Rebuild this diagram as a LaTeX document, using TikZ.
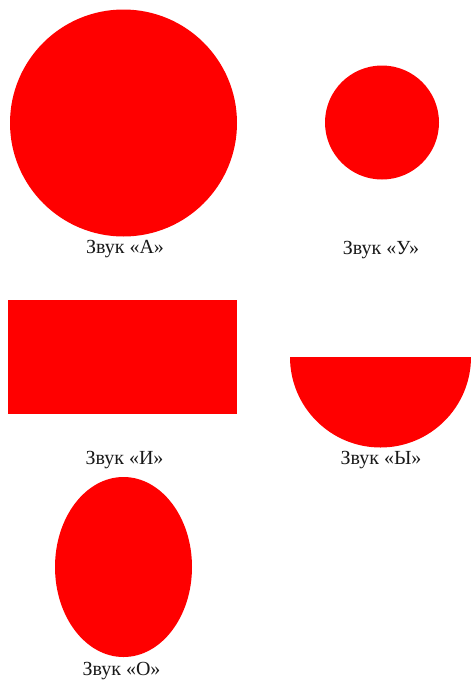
\documentclass[tikz,border=0pt]{standalone}
\usepackage{fontspec}
\setmainfont{Liberation Serif}
\usetikzlibrary{positioning, shapes.geometric}

\begin{document}
\begin{tikzpicture}[
    x=1pt, y=1pt,
    % filled red figures, no outline
    figure/.style={
        fill=red,
        draw=none,
        inner sep=0pt,
        outer sep=0pt
    },
    lbl/.style={font=\fontsize{20}{22}\selectfont, inner sep=0pt, text=black!90}
]
    \useasboundingbox (0,0) rectangle (471,-689);

    % --- Figures ---
    \node[figure, circle, minimum size=227pt] (a) at (123.5,-123) {};
    \node[figure, circle, minimum size=114pt] (u) at (382,-122.5) {};
    \node[figure, rectangle, minimum width=229pt, minimum height=114pt] (i) at (122.5,-357) {};
    \coordinate (y) at (380.5,-357);
    \fill[red] ([xshift=-90.5pt]y) arc[start angle=180, end angle=360, radius=90.5pt] -- cycle;
    \node[figure, ellipse, minimum width=137pt, minimum height=180pt] (o) at (123.5,-567) {};

    % --- Labels ---
    \node[lbl] (la) at (125,-249) {Звук «А»};
    \node[lbl] (lu) at (381,-250) {Звук «У»};
    \node[lbl] (li) at (124.5,-460) {Звук «И»};
    \node[lbl] (ly) at (381,-460) {Звук «Ы»};
    \node[lbl] (lo) at (121.5,-671) {Звук «О»};

\end{tikzpicture}
\end{document}
